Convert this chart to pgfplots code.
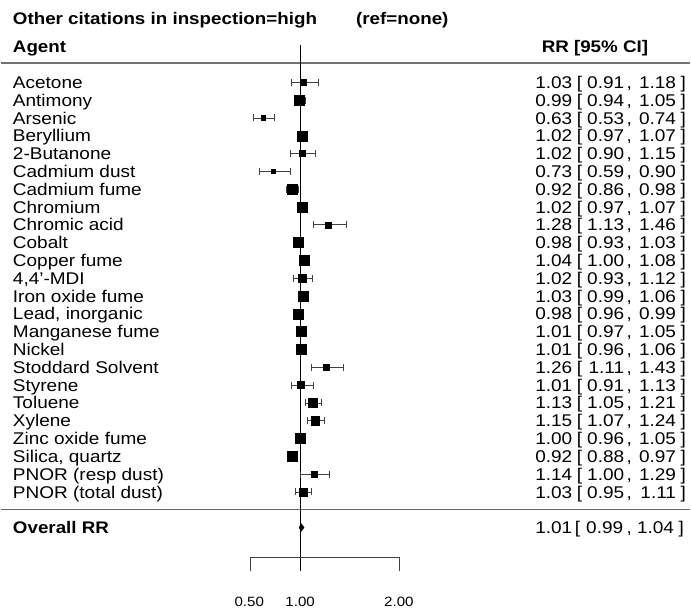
\documentclass[border=0pt]{standalone}
\usepackage{pgfplots}
\pgfplotsset{compat=1.18}
\usepackage{pgfplotstable}
\usepackage{fontspec}
\setmainfont{Liberation Sans}[FakeStretch=1.12]
\newcommand\rowfont{\fontsize{17bp}{20bp}\selectfont}
\newcommand\titfont{\fontsize{16.8bp}{20bp}\selectfont\bfseries}
\newcommand\tickfont{\fontsize{13.5bp}{16bp}\selectfont}
\pgfplotstableread{
i rr lb ub s
0 1.03 0.91 1.18 3.2
1 0.99 0.94 1.05 5
2 0.63 0.53 0.74 2.5
3 1.02 0.97 1.07 5
4 1.02 0.90 1.15 3
5 0.73 0.59 0.90 2
6 0.92 0.86 0.98 5
7 1.02 0.97 1.07 5
8 1.28 1.13 1.46 3
9 0.98 0.93 1.03 5
10 1.04 1.00 1.08 5
11 1.02 0.93 1.12 3.7
12 1.03 0.99 1.06 5
13 0.98 0.96 0.99 5
14 1.01 0.97 1.05 5
15 1.01 0.96 1.06 5
16 1.26 1.11 1.43 3
17 1.01 0.91 1.13 3.5
18 1.13 1.05 1.21 4.5
19 1.15 1.07 1.24 4.2
20 1.00 0.96 1.05 5
21 0.92 0.88 0.97 5
22 1.14 1.00 1.29 3
23 1.03 0.95 1.11 4
}\data
\newcommand\rw[5]{%
\node[anchor=mid west] at (axis cs:-1.88,#1) {#2};
\node[anchor=mid east] at (axis cs:3.73,#1) {#3};
\node[anchor=mid] at (axis cs:3.80,#1) {[};
\node[anchor=mid east] at (axis cs:4.25,#1) {#4};
\node[anchor=mid] at (axis cs:4.30,#1) {,};
\node[anchor=mid east] at (axis cs:4.77,#1) {#5};
\node[anchor=mid] at (axis cs:4.84,#1) {]};}
\begin{document}
\begin{tikzpicture}[every node/.style={inner sep=0pt, font=\rowfont, yshift=-3.5bp}]
\begin{axis}[
 width=691bp, height=610bp, scale only axis,
 xmin=-2, xmax=4.91, ymin=-4.622, ymax=29.552, y dir=reverse,
 hide axis, clip=false,
]
\path (rel axis cs:0,0) rectangle (rel axis cs:1,1);
\addplot[draw=black!55, line width=1.6bp] coordinates {(-2,-1.09) (4.91,-1.09)};
\addplot[draw=black!60, line width=1.2bp] coordinates {(-2,24.0) (4.91,24.0)};
\addplot[black, line width=0.8bp] coordinates {(1,-2.10) (1,27.42)};
\addplot[black!75, line width=0.9bp] coordinates {(0.5,27.42) (0.5,26.69) (2,26.69) (2,27.42)};
% CI caps
\addplot[only marks, mark=|, mark size=3.5bp, mark options={line width=0.7bp, draw=black!75}] table[x=lb, y=i] {\data};
\addplot[only marks, mark=|, mark size=3.5bp, mark options={line width=0.7bp, draw=black!75}] table[x=ub, y=i] {\data};
\addplot[only marks, mark=square*, black,
  scatter, scatter/use mapped color={draw=black, fill=black},
  visualization depends on={\thisrow{s} \as \ms},
  scatter/@pre marker code/.append style={/tikz/mark size=\ms bp},
  error bars/.cd, x dir=both, x explicit, error mark=none,
  error bar style={line width=0.7bp, black!75}]
  table[x=rr, y=i, x error plus expr=\thisrow{ub}-\thisrow{rr}, x error minus expr=\thisrow{rr}-\thisrow{lb}] {\data};
\addplot[fill=black, draw=black] coordinates {(0.99,25) (1.01,24.78) (1.04,25) (1.01,25.22)} -- cycle;
\node[anchor=mid west, font=\titfont] at (axis cs:-1.88,-3.585) {Other citations in inspection=high};
\node[anchor=mid west, font=\titfont] at (axis cs:1.56,-3.585) {(ref=none)};
\node[anchor=mid west, font=\titfont] at (axis cs:-1.88,-2.045) {Agent};
\node[anchor=mid west, font=\titfont] at (axis cs:3.42,-2.045) {RR [95\% CI]};
\rw{0}{Acetone}{1.03}{0.91}{1.18}
\rw{1}{Antimony}{0.99}{0.94}{1.05}
\rw{2}{Arsenic}{0.63}{0.53}{0.74}
\rw{3}{Beryllium}{1.02}{0.97}{1.07}
\rw{4}{2-Butanone}{1.02}{0.90}{1.15}
\rw{5}{Cadmium dust}{0.73}{0.59}{0.90}
\rw{6}{Cadmium fume}{0.92}{0.86}{0.98}
\rw{7}{Chromium}{1.02}{0.97}{1.07}
\rw{8}{Chromic acid}{1.28}{1.13}{1.46}
\rw{9}{Cobalt}{0.98}{0.93}{1.03}
\rw{10}{Copper fume}{1.04}{1.00}{1.08}
\rw{11}{4,4{\char"27}-MDI}{1.02}{0.93}{1.12}
\rw{12}{Iron oxide fume}{1.03}{0.99}{1.06}
\rw{13}{Lead, inorganic}{0.98}{0.96}{0.99}
\rw{14}{Manganese fume}{1.01}{0.97}{1.05}
\rw{15}{Nickel}{1.01}{0.96}{1.06}
\rw{16}{Stoddard Solvent}{1.26}{1.11}{1.43}
\rw{17}{Styrene}{1.01}{0.91}{1.13}
\rw{18}{Toluene}{1.13}{1.05}{1.21}
\rw{19}{Xylene}{1.15}{1.07}{1.24}
\rw{20}{Zinc oxide fume}{1.00}{0.96}{1.05}
\rw{21}{Silica, quartz}{0.92}{0.88}{0.97}
\rw{22}{PNOR (resp dust)}{1.14}{1.00}{1.29}
\rw{23}{PNOR (total dust)}{1.03}{0.95}{1.11}
\node[anchor=mid west, font=\titfont] at (axis cs:-1.88,25) {Overall RR};
\node[anchor=mid east] at (axis cs:3.73,25) {1.01};
\node[anchor=mid] at (axis cs:3.78,25) {[};
\node[anchor=mid east] at (axis cs:4.24,25) {0.99};
\node[anchor=mid] at (axis cs:4.30,25) {,};
\node[anchor=mid east] at (axis cs:4.75,25) {1.04};
\node[anchor=mid] at (axis cs:4.82,25) {]};
\node[font=\tickfont] at (axis cs:0.49,28.99) {0.50};
\node[font=\tickfont] at (axis cs:1.0,28.99) {1.00};
\node[font=\tickfont] at (axis cs:1.99,28.99) {2.00};
\end{axis}
\end{tikzpicture}
\end{document}
